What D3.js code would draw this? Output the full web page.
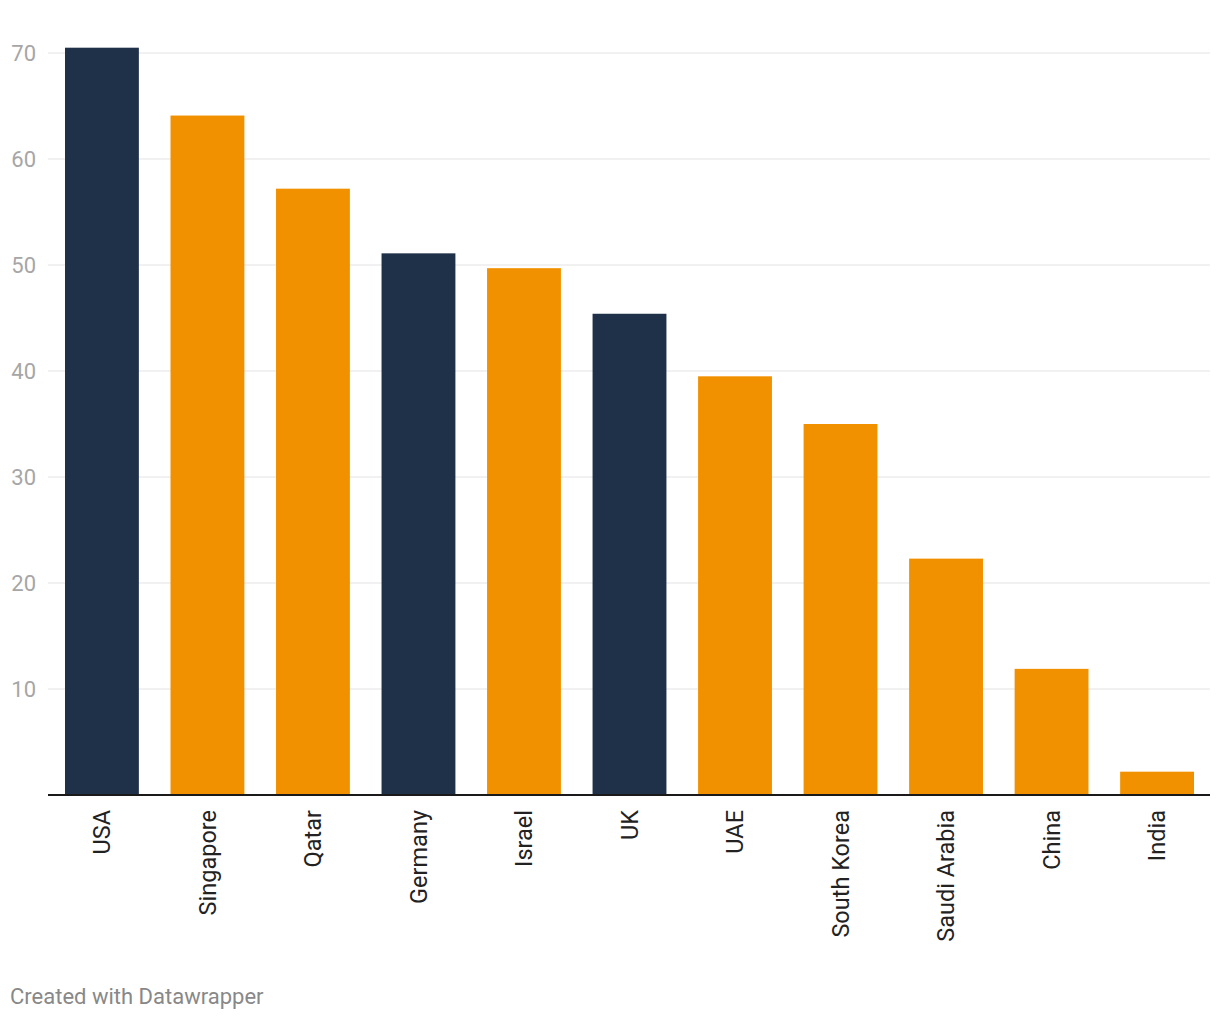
<!DOCTYPE html>
<html>
<head>
<meta charset="utf-8">
<script src="https://cdn.jsdelivr.net/npm/d3@7"></script>
<style>
  body { margin: 0; background: #fff; }
  svg { display: block; font-family: Roboto, "Noto Sans", sans-serif; }
</style>
</head>
<body>
<svg id="chart" width="1220" height="1020"></svg>
<script>
const categories = ["USA", "Singapore", "Qatar", "Germany", "Israel", "UK", "UAE", "South Korea", "Saudi Arabia", "China", "India"];
const values = [70.5, 64.1, 57.2, 51.1, 49.7, 45.4, 39.5, 35.0, 22.3, 11.9, 2.2];
const highlighted = ["USA", "Germany", "UK"];
const yTicks = [10, 20, 30, 40, 50, 60, 70];

const svg = d3.select("#chart");
const x0 = 48, x1 = 1210, yBase = 795;

const x = d3.scaleBand().domain(categories).range([65, 1194]).paddingInner(0.3).paddingOuter(0);
const y = d3.scaleLinear().domain([0, 70]).range([yBase, 53]);

// gridlines
svg.append("g").selectAll("line").data(yTicks).join("line")
  .attr("x1", x0).attr("x2", x1)
  .attr("y1", d => y(d)).attr("y2", d => y(d))
  .attr("stroke", "#e3e3e3").attr("stroke-width", 1);

// y labels
svg.append("g").selectAll("text").data(yTicks).join("text")
  .attr("x", 36).attr("y", d => y(d))
  .attr("dy", "0.35em")
  .attr("text-anchor", "end")
  .attr("fill", "#a6a6a6")
  .attr("font-size", 22)
  .text(d => d);

// bars
svg.append("g").selectAll("rect").data(categories).join("rect")
  .attr("x", d => x(d))
  .attr("width", x.bandwidth())
  .attr("y", (d, i) => y(values[i]))
  .attr("height", (d, i) => yBase - y(values[i]))
  .attr("fill", d => highlighted.includes(d) ? "#1f3049" : "#f29100");

// baseline
svg.append("line")
  .attr("x1", x0).attr("x2", x1)
  .attr("y1", yBase).attr("y2", yBase)
  .attr("stroke", "#1a1a1a").attr("stroke-width", 2);

// category labels
svg.append("g").selectAll("text").data(categories).join("text")
  .attr("transform", d => `translate(${x(d) + x.bandwidth() / 2},810) rotate(-90)`)
  .attr("dy", "0.35em")
  .attr("text-anchor", "end")
  .attr("fill", "#222")
  .attr("font-size", 23.5)
  .text(d => d);

// footer
svg.append("text")
  .attr("x", 10).attr("y", 1004)
  .attr("fill", "#888")
  .attr("font-size", 22)
  .text("Created with Datawrapper");
</script>
</body>
</html>
